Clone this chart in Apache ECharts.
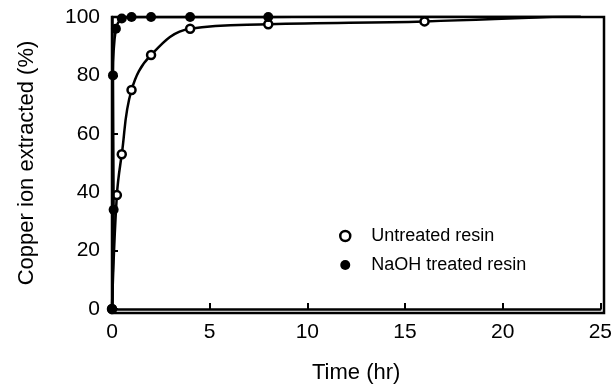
<!DOCTYPE html>
<html><head><meta charset="utf-8">
<script src="https://cdn.jsdelivr.net/npm/echarts@6/dist/echarts.min.js"></script>
<style>html,body{margin:0;padding:0;background:#fff}#c{width:615px;height:389px}</style>
</head><body><div id="c"></div>
<script>
const untreatedTime = [0, 0.25, 0.5, 1, 2, 4, 8, 16, 24];
const untreatedValue = [0, 39, 53, 75, 87, 96, 97.5, 98.5, 100.5];
const naohTime = [0, 0.083, 0.05, 0.2, 0.5, 1, 2, 4, 8, 16, 24];
const naohValue = [0, 34, 80, 96, 99.5, 100, 100, 100, 100, 100.5, 100.5];
const xTicks = [0, 5, 10, 15, 20, 25];
const yTicks = [0, 20, 40, 60, 80, 100];

const F = 'Liberation Sans, Arial, sans-serif';
const chart = echarts.init(document.getElementById('c'));
chart.setOption({
  animation: false,
  backgroundColor: '#fff',
  grid: {left: 112, right: 11, top: 17, bottom: 76, show: false},
  legend: {
    orient: 'vertical', left: 334, top: 222, itemGap: 11, itemWidth: 10, itemHeight: 10,
    textStyle: {fontFamily: F, fontSize: 18, color: '#000', padding: [0, 0, 0, 16]},
    data: [
      {name: 'Untreated resin', icon: 'circle', itemStyle: {color: '#fff', borderColor: '#000', borderWidth: 2.5}},
      {name: 'NaOH treated resin', icon: 'circle', itemStyle: {color: '#000', borderColor: '#000', borderWidth: 0}}
    ]
  },
  xAxis: {
    type: 'value', min: 0, max: 25, interval: 5,
    name: 'Time (hr)', nameLocation: 'middle', nameGap: 53,
    nameTextStyle: {fontFamily: F, fontSize: 22, color: '#000'},
    axisLine: {onZero: false, lineStyle: {color: '#000', width: 2.5}},
    axisTick: {inside: true, length: 6, lineStyle: {color: '#000', width: 2}},
    axisLabel: {fontFamily: F, fontSize: 21, color: '#000', margin: 13,
      formatter: v => xTicks.includes(v) ? String(v) : ''},
    splitLine: {show: false}
  },
  yAxis: {
    type: 'value', min: 0, max: 100, interval: 20,
    name: 'Copper ion extracted (%)', nameLocation: 'middle', nameGap: 74, nameRotate: 90,
    nameTextStyle: {fontFamily: F, fontSize: 22, color: '#000'},
    axisLine: {onZero: false, lineStyle: {color: '#000', width: 2.5}},
    axisTick: {inside: true, length: 6, lineStyle: {color: '#000', width: 2}},
    axisLabel: {fontFamily: F, fontSize: 21, color: '#000', margin: 12,
      formatter: v => yTicks.includes(v) ? String(v) : ''},
    splitLine: {show: false}
  },
  graphic: [{
    type: 'rect', shape: {x: 112, y: 17, width: 492, height: 296},
    style: {fill: 'none', stroke: '#000', lineWidth: 2.5}, silent: true, z: 0
  }],
  series: [
    {
      name: 'Untreated resin', type: 'line', smooth: 0.4,
      data: untreatedTime.map((t, i) => [t, untreatedValue[i]]),
      lineStyle: {color: '#000', width: 2.5},
      symbol: 'circle', symbolSize: 8,
      itemStyle: {color: '#fff', borderColor: '#000', borderWidth: 2.5}, z: 3
    },
    {
      name: 'NaOH treated resin', type: 'line', smooth: 0.3,
      data: naohTime.map((t, i) => [t, naohValue[i]]),
      lineStyle: {color: '#000', width: 2.5},
      symbol: 'circle', symbolSize: 10,
      itemStyle: {color: '#000', borderColor: '#000', borderWidth: 0}, z: 4
    }
  ]
});
</script></body></html>
